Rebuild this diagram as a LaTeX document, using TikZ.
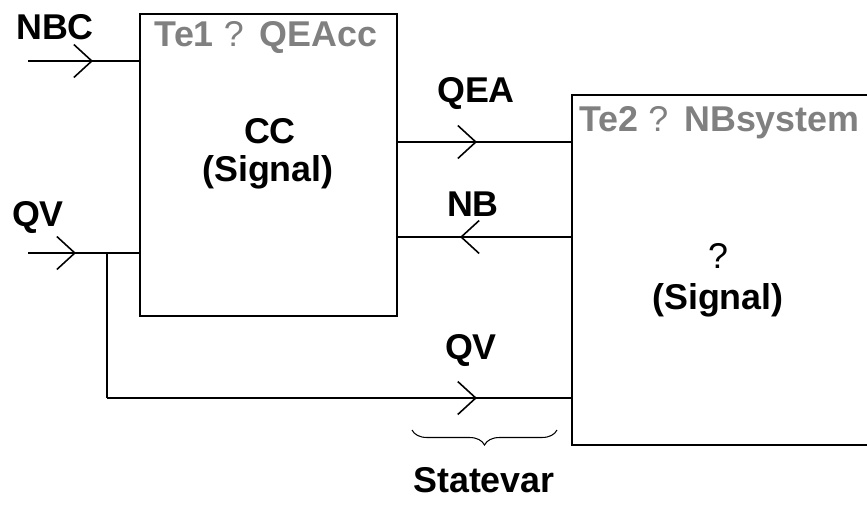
\documentclass[tikz,border=0pt]{standalone}
\usepackage{fontspec}
\setmainfont{Liberation Sans}
\usepackage{xcolor}
\usetikzlibrary{arrows.meta,decorations.markings,decorations.pathreplacing}

\definecolor{titlegray}{HTML}{808080}
\newcommand{\unk}{{\mdseries ?}}

\begin{document}
\begin{tikzpicture}[
  x=0.02cm, y=-0.02cm,
  block/.style={draw, line width=1pt, rectangle, inner sep=0pt},
  lbl/.style={font=\fontsize{20.4}{24}\selectfont\bfseries, inner sep=0pt},
  ttl/.style={lbl, text=titlegray},
  flow/.style={line width=0.9pt, postaction={decorate},
    decoration={markings, mark=at position #1 with
      {\arrow{Straight Barb[length=0.36cm, width=0.66cm, line width=0.9pt]}}}},
  wire/.style={line width=0.9pt}
]
  \useasboundingbox (0,0) rectangle (867,505);
  \clip (0,0) rectangle (867,505);

  % blocks
  \node[block, minimum width=5.14cm, minimum height=6.04cm] (cc) at (268.5,165) {};
  \node[block, minimum width=6.56cm, minimum height=7cm] (sys) at (736,270) {};

  \node[ttl] (cctitle) at (266,38) {Te1 \unk\ \,QEAcc};
  \node[ttl, anchor=west] (systitle) at (579,123) {Te2 \unk\ \,NBsystem};
  \node[lbl] (ccname) at (270,131) {CC};
  \node[lbl] (ccsig) at (268,172) {(Signal)};
  \node[lbl] (sysname) at (718,256) {\unk};
  \node[lbl] (syssig) at (718,300) {(Signal)};

  % free ends and bends
  \coordinate (nbcin) at (28,61);
  \coordinate (qvin) at (28,253);
  \coordinate (qvsplit) at (107,253);
  \coordinate (qvbot) at (107,398);
  \coordinate (qeaout) at (397,142);
  \coordinate (nbout) at (572,237);

  % connectors
  \draw[flow=1.3cm] (nbcin) -- (nbcin -| cc.west);
  \draw[flow=0.96cm] (qvin) -- (qvin -| cc.west);
  \draw[wire] (qvsplit) -- (qvbot);
  \draw[flow=7.4cm] (qvbot) -- (qvbot -| sys.west);
  \draw[flow=1.6cm] (qeaout) -- (qeaout -| sys.west);
  \draw[flow=2.24cm] (nbout) -- (nbout -| cc.east);

  % signal names
  \node[lbl] (nbc) at (55,27) {NBC};
  \node[lbl] (qva) at (38,218) {QV};
  \node[lbl] (qea) at (476,94) {QEA};
  \node[lbl] (nb) at (473,204) {NB};
  \node[lbl] (qvb) at (471,351) {QV};

  % state variable
  \draw[line width=0.6pt, decorate, decoration={brace, mirror, amplitude=0.3cm}]
    (412,430) -- (557,430);
  \node[lbl] (state) at (484,480) {Statevar};
\end{tikzpicture}
\end{document}
